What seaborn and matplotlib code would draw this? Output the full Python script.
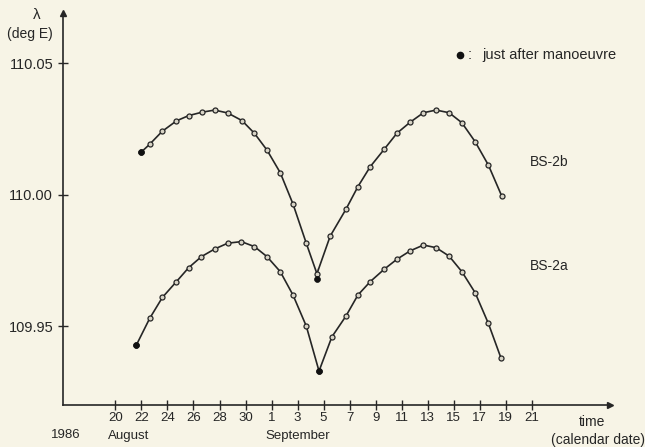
import numpy as np
import pandas as pd
import matplotlib
matplotlib.use("Agg")
import matplotlib.pyplot as plt
import seaborn as sns

# ---- data (days after 20 August 1986, longitude in deg E) ----
bs2b_day = [2.0, 2.63, 3.59, 4.69, 5.63, 6.66, 7.63, 8.63, 9.73, 10.68, 11.65, 12.67,
            13.65, 14.67, 15.49, 15.49, 16.51, 17.72, 18.64, 19.59, 20.66, 21.64,
            22.66, 23.68, 24.65, 25.65, 26.63, 27.65, 28.67, 29.70]
bs2b_lon = [110.0163, 110.0192, 110.0241, 110.0281, 110.0301, 110.0314, 110.0322,
            110.0311, 110.0282, 110.0234, 110.0170, 110.0084, 109.9965, 109.9816,
            109.9721, 109.9679, 109.9843, 109.9945, 110.0031, 110.0107, 110.0173,
            110.0234, 110.0276, 110.0312, 110.0322, 110.0312, 110.0274, 110.0202,
            110.0113, 109.9995]
bs2b_manoeuvre = [0, 15]   # indices of "just after manoeuvre" points

bs2a_day = [1.61, 2.63, 3.61, 4.69, 5.63, 6.61, 7.63, 8.63, 9.68, 10.69, 11.65, 12.67,
            13.65, 14.67, 15.65, 16.64, 17.72, 18.64, 19.59, 20.66, 21.64, 22.66,
            23.68, 24.65, 25.65, 26.63, 27.65, 28.67, 29.65]
bs2a_lon = [109.9429, 109.9530, 109.9610, 109.9670, 109.9723, 109.9765, 109.9794,
            109.9816, 109.9822, 109.9803, 109.9765, 109.9708, 109.9619, 109.9501,
            109.9330, 109.9460, 109.9539, 109.9619, 109.9670, 109.9717, 109.9755,
            109.9787, 109.9809, 109.9799, 109.9767, 109.9708, 109.9628, 109.9511,
            109.9378]
bs2a_manoeuvre = [0, 14]

xtick_days = list(range(0, 33, 2))
xtick_labels = ["20", "22", "24", "26", "28", "30", "1", "3", "5", "7", "9",
                "11", "13", "15", "17", "19", "21"]
ytick_vals = [109.95, 110.00, 110.05]
ytick_labels = ["109.95", "110.00", "110.05"]

# ---- style ----
sns.set_style("ticks")
plt.rcParams["font.family"] = ["Liberation Sans", "DejaVu Sans"]
BG = "#f7f4e6"
INK = "#262626"

W, H = 645, 447
fig = plt.figure(figsize=(W / 100, H / 100), dpi=100, facecolor=BG)
ax = fig.add_axes([62.5 / W, (H - 405) / H, (610 - 62.5) / W, (405 - 13) / H])
ax.set_facecolor(BG)

df_b = pd.DataFrame({"day": bs2b_day, "lon": bs2b_lon})
df_a = pd.DataFrame({"day": bs2a_day, "lon": bs2a_lon})

for df, man in ((df_b, bs2b_manoeuvre), (df_a, bs2a_manoeuvre)):
    sns.lineplot(data=df, x="day", y="lon", sort=False, ax=ax, color=INK,
                 linewidth=1.2, marker="o", markersize=3.6,
                 markerfacecolor="#d8d4c6", markeredgecolor=INK, markeredgewidth=0.9)
    sns.scatterplot(data=df.iloc[man], x="day", y="lon", ax=ax, color="#111111",
                    s=18, edgecolor="#111111", linewidth=0.5, zorder=5)

ax.set_xlim(-4.07, 38.02)
ax.set_ylim(109.9201, 110.0691)

ax.set_xticks(xtick_days)
ax.set_xticklabels(xtick_labels, fontsize=9.5, color=INK)
ax.set_yticks(ytick_vals)
ax.set_yticklabels(ytick_labels, fontsize=10.5, color=INK)
ax.tick_params(axis="both", direction="inout", length=7.5, width=1.0, color=INK)
ax.tick_params(axis="x", pad=1.5)
ax.tick_params(axis="y", pad=3)

ax.set_xlabel("")
ax.set_ylabel("")
for s in ("top", "right"):
    ax.spines[s].set_visible(False)
for s in ("left", "bottom"):
    ax.spines[s].set_color(INK)
    ax.spines[s].set_linewidth(1.2)

# arrowheads
ax.plot(1, 0, marker=">", color=INK, ms=5, transform=ax.transAxes, clip_on=False)
ax.plot(0, 1, marker="^", color=INK, ms=5, transform=ax.transAxes, clip_on=False)

def ftext(x, y, s, **kw):
    kw.setdefault("fontsize", 10)
    kw.setdefault("color", INK)
    fig.text(x / W, 1 - y / H, s, **kw)

ftext(37, 15, "λ", ha="center", va="center", fontsize=11)
ftext(30, 34, "(deg E)", ha="center", va="center", fontsize=10)
ftext(66, 438.5, "1986", ha="center", va="baseline", fontsize=9.5)
ftext(129, 438.5, "August", ha="center", va="baseline", fontsize=9.5)
ftext(298, 439.5, "September", ha="center", va="baseline", fontsize=9.5)
ftext(592, 422, "time", ha="center", va="center")
ftext(645, 440, "(calendar date)", ha="right", va="center")
ftext(549, 162, "BS-2b", ha="center", va="center")
ftext(549, 266, "BS-2a", ha="center", va="center")

# legend note
fig.add_artist(plt.Line2D([460 / W], [1 - 55 / H], marker="o", color="#111111", ms=4.5,
                          linestyle="none"))
ftext(470, 55, ":", ha="center", va="center", fontsize=10.5)
ftext(482, 55, "just after manoeuvre", ha="left", va="center", fontsize=10.5)

fig.savefig("out.png", dpi=100, facecolor=BG)
